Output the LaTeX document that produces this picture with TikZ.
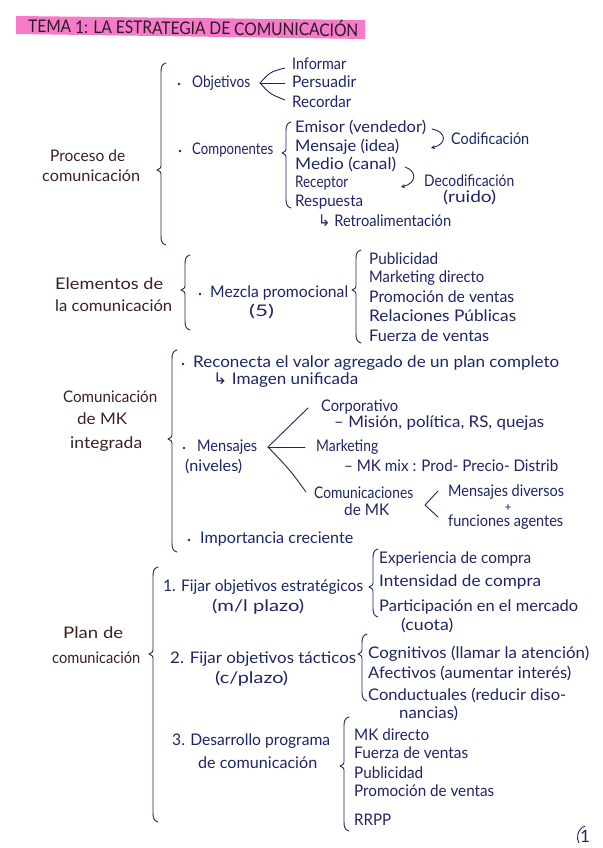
\documentclass[tikz,border=0pt]{standalone}
\usepackage{fontspec}
\setmainfont{Lato}
\newfontfamily\symf{DejaVu Sans}
\usepackage{graphicx}
\usetikzlibrary{arrows.meta}
\definecolor{navyc}{HTML}{1E2565}
\definecolor{labc}{HTML}{3A2220}
\definecolor{titc}{HTML}{2B1B22}
\definecolor{pinkc}{HTML}{F57AC9}
\newcommand\fitto[2]{\resizebox{#1pt}{\height}{#2}}
\newcommand\hbrc[5]{%
 \draw[pen,#5] ({#1+5},#2) .. controls ({#1+1},{#2+1}) and (#1,{#2+4}) .. (#1,{#2+9}) -- (#1,{#3-6}) .. controls (#1,{#3-2}) .. ({#1-4},#3) .. controls (#1,{#3+2}) .. (#1,{#3+6}) -- (#1,{#4-9}) .. controls (#1,{#4-4}) and ({#1+1},{#4-1}) .. ({#1+5},#4);}
\tikzset{
 txt/.style={anchor=base west, inner sep=0pt, font=\fontsize{16}{19}\selectfont},
 lab/.style={txt, text=labc},
 itm/.style={txt, text=navyc},
 pen/.style={line width=0.9pt, line cap=round, line join=round},
 dot/.style={circle, fill=navyc, inner sep=0pt, minimum size=2.6pt},
}
\begin{document}
\begin{tikzpicture}[x=1pt,y=-1pt]
\useasboundingbox[fill=white] (0,0) rectangle (602,848);
% title
\fill[pinkc] (16,16) -- (365,20) -- (365,39) -- (16,34) -- cycle;
\node[anchor=base west, inner sep=0pt, text=titc, font=\fontsize{17.5}{20}\selectfont, rotate=-0.7] (title) at (28,32.5) {\fitto{330}{TEMA 1: LA ESTRATEGIA DE COMUNICACIÓN}};

% ---------- Proceso de comunicacion
\node[lab] (p1) at (50,161.5) {\fitto{75}{Proceso de}};
\node[lab] (p2) at (42,181.5) {\fitto{98}{comunicación}};
\hbrc{161}{63}{170}{245}{labc}
\node[dot] (b1) at (179,84) {};
\node[itm] (ob) at (192,87.5) {\fitto{58}{Objetivos}};
\node[itm] (inf) at (292,69.5) {\fitto{54}{Informar}};
\node[itm] (per) at (292,87.5) {\fitto{64}{Persuadir}};
\node[itm] (rec) at (292,107.5) {\fitto{59}{Recordar}};
\coordinate (v1) at (260,83);
\draw[pen,navyc] (285,68) .. controls (270,72) .. (v1) .. controls (270,94) .. (285,100);
\draw[pen,navyc] (v1) -- (285,83);
\node[dot] (b2) at (180,151) {};
\node[itm] (com) at (192,154.5) {\fitto{81}{Componentes}};
\hbrc{286}{122}{153}{208}{navyc}
\node[itm] (emi) at (295,132.5) {\fitto{131}{Emisor (vendedor)}};
\node[itm] (men) at (295,151.5) {\fitto{104}{Mensaje (idea)}};
\node[itm] (med) at (295,169.5) {\fitto{101}{Medio (canal)}};
\node[itm] (recp) at (295,187.5) {\fitto{53}{Receptor}};
\node[itm] (resp) at (295,206.5) {\fitto{68}{Respuesta}};
\node[itm] (retro) at (318,226.5) {\fitto{133}{{\symf ↳} Retroalimentación}};
\node[itm] (cod) at (451,144.5) {\fitto{78}{Codificación}};
\node[itm] (dec) at (424,186.5) {\fitto{90}{Decodificación}};
\node[itm] (rui) at (443,202.5) {\fitto{53}{(ruido)}};
\draw[pen,navyc,-{Stealth[length=4pt,width=4pt]}] (432,129) .. controls (447,132) and (447,144) .. (431,148);
\draw[pen,navyc,-{Stealth[length=4pt,width=4pt]}] (405,167) .. controls (417,171) and (417,183) .. (401,187);

% ---------- Elementos
\node[lab] (e1) at (55,289.5) {\fitto{108}{Elementos de}};
\node[lab] (e2) at (55,311.5) {\fitto{117}{la comunicación}};
\hbrc{185}{255}{290}{330}{labc}
\node[dot] (b3) at (200,294) {};
\node[itm] (mez) at (210,297.5) {\fitto{138}{Mezcla promocional}};
\node[itm] (five) at (249,316.5) {\fitto{25}{(5)}};
\hbrc{356}{250}{290}{343}{navyc}
\node[itm] (pub) at (369,264.5) {\fitto{69}{Publicidad}};
\node[itm] (mkd) at (369,282.5) {\fitto{115}{Marketing directo}};
\node[itm] (prv) at (369,302.5) {\fitto{145}{Promoción de ventas}};
\node[itm] (rrp) at (369,321.5) {\fitto{147}{Relaciones Públicas}};
\node[itm] (fzv) at (369,341.5) {\fitto{120}{Fuerza de ventas}};

% ---------- Comunicacion de MK integrada
\node[lab] (c1) at (63,402.5) {\fitto{94}{Comunicación}};
\node[lab] (c2) at (77,424.5) {\fitto{50}{de MK}};
\node[lab] (c3) at (70,448.5) {\fitto{72}{integrada}};
\hbrc{172}{350}{439}{552}{labc}
\node[dot] (b4) at (183,364) {};
\node[itm] (recon) at (193,367.5) {\fitto{366}{Reconecta el valor agregado de un plan completo}};
\node[itm] (img) at (213,384.5) {\fitto{145}{{\symf ↳} Imagen unificada}};
\node[dot] (b5) at (184,448) {};
\node[itm] (mens) at (197,451.5) {\fitto{60}{Mensajes}};
\node[itm] (niv) at (185,471.5) {\fitto{57}{(niveles)}};
\coordinate (v2) at (268,447);
\draw[pen,navyc] (v2) .. controls (288,428) .. (308,408);
\draw[pen,navyc] (v2) -- (305,447);
\draw[pen,navyc] (v2) .. controls (290,470) .. (306,492);
\node[itm] (corp) at (321,411.5) {\fitto{77}{Corporativo}};
\node[itm] (mis) at (334,427.5) {\fitto{210}{– Misión, política, RS, quejas}};
\node[itm] (mkt) at (316,451.5) {\fitto{62}{Marketing}};
\node[itm] (mix) at (344,471.5) {\fitto{214}{– MK mix : Prod- Precio- Distrib}};
\node[itm] (cmk) at (314,498.5) {\fitto{99}{Comunicaciones}};
\node[itm] (dmk) at (344,515.5) {\fitto{45}{de MK}};
\draw[pen,navyc] (438,491) -- (425,505) -- (438,517);
\node[itm] (mdv) at (448,496.5) {\fitto{116}{Mensajes diversos}};
\node[itm, anchor=center, font=\fontsize{12}{14}\selectfont] (plus) at (508,507.5) {+};
\node[itm] (fag) at (448,526.5) {\fitto{115}{funciones agentes}};
\node[dot] (b6) at (189,540) {};
\node[itm] (imp) at (200,543.5) {\fitto{153}{Importancia creciente}};

% ---------- Plan de comunicacion
\node[lab] (pl1) at (63,638.5) {\fitto{60}{Plan de}};
\node[lab] (pl2) at (52,663.5) {\fitto{88}{comunicación}};
\hbrc{153}{567}{654}{822}{labc}
\node[itm] (f1) at (163,591.5) {\fitto{200}{1. Fijar objetivos estratégicos}};
\node[itm] (f1b) at (212,611.5) {\fitto{92}{(m/l plazo)}};
\hbrc{373}{549}{587}{617}{navyc}
\node[itm] (exp) at (379,563.5) {\fitto{152}{Experiencia de compra}};
\node[itm] (int) at (379,586.5) {\fitto{162}{Intensidad de compra}};
\node[itm] (par) at (379,611.5) {\fitto{199}{Participación en el mercado}};
\node[itm] (cuo) at (401,630.5) {\fitto{52}{(cuota)}};
\node[itm] (f2) at (170,663.5) {\fitto{186}{2. Fijar objetivos tácticos}};
\node[itm] (f2b) at (215,683.5) {\fitto{73}{(c/plazo)}};
\hbrc{362}{634}{654}{701}{navyc}
\node[itm] (cog) at (368,658.5) {\fitto{221}{Cognitivos (llamar la atención)}};
\node[itm] (afe) at (368,678.5) {\fitto{203}{Afectivos (aumentar interés)}};
\node[itm] (con) at (368,700.5) {\fitto{198}{Conductuales (reducir diso-}};
\node[itm] (nan) at (399,718.5) {\fitto{59}{nancias)}};
\node[itm] (f3) at (172,745.5) {\fitto{158}{3. Desarrollo programa}};
\node[itm] (f3b) at (198,768.5) {\fitto{119}{de comunicación}};
\hbrc{344}{717}{766}{831}{navyc}
\node[itm] (d1) at (354,740.5) {\fitto{75}{MK directo}};
\node[itm] (d2) at (354,758.5) {\fitto{114}{Fuerza de ventas}};
\node[itm] (d3) at (354,778.5) {\fitto{69}{Publicidad}};
\node[itm] (d4) at (354,796.5) {\fitto{140}{Promoción de ventas}};
\node[itm] (d5) at (354,825.5) {\fitto{37}{RRPP}};

% page number
\draw[pen,navyc] (585,826) .. controls (577,829) and (576,839) .. (579,843);
\node[itm, font=\fontsize{17}{20}\selectfont] (pg) at (580,842) {1};
\end{tikzpicture}
\end{document}
